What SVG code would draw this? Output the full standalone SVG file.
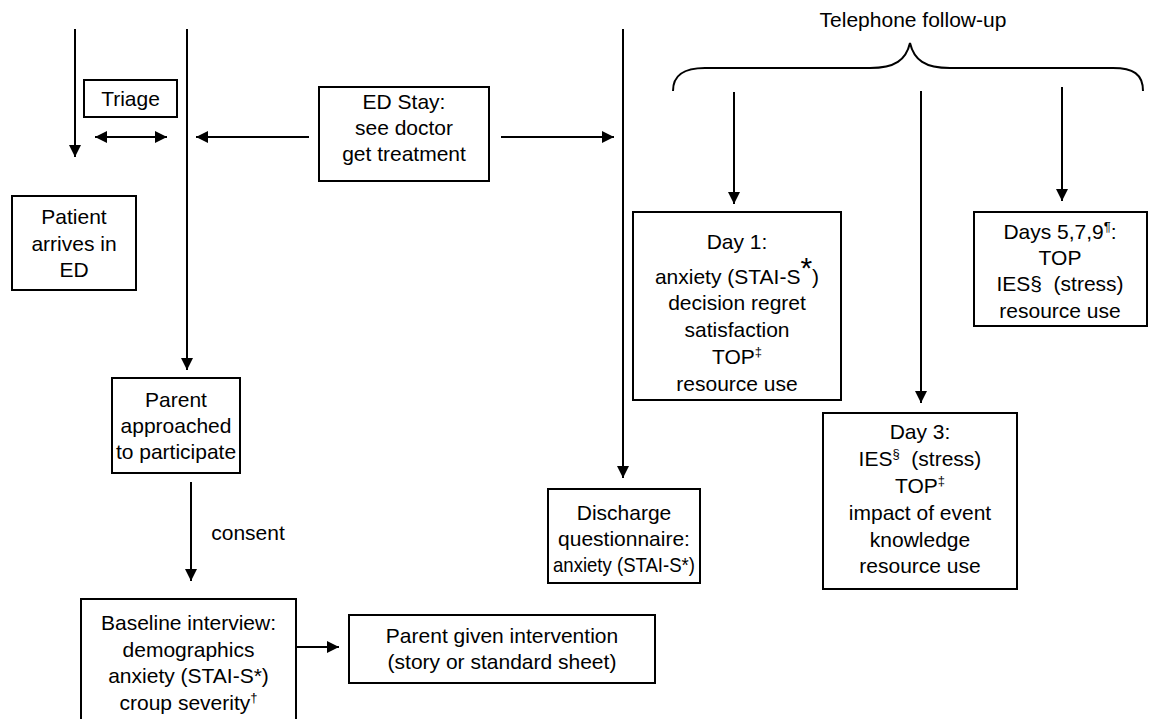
<svg xmlns="http://www.w3.org/2000/svg" width="1149" height="719" viewBox="0 0 1149 719">
<style>
.box{fill:#fff;stroke:#000;stroke-width:2}
.ln{fill:none;stroke:#000;stroke-width:2}
text{font-family:"Liberation Sans",Arial,sans-serif;font-size:21px;fill:#000;text-anchor:middle}
.sup{font-size:13px}
</style>
<defs>
<marker id="ah" markerUnits="userSpaceOnUse" markerWidth="14" markerHeight="12" refX="12" refY="6" orient="auto-start-reverse">
<path d="M0,0 L12,6 L0,12 Z" fill="#000"/>
</marker>
</defs>
<rect width="1149" height="719" fill="#fff"/>
<g id="connectors">
<line class="ln" x1="75" y1="29" x2="75" y2="157" marker-end="url(#ah)"/>
<line class="ln" x1="187" y1="29" x2="187" y2="370" marker-end="url(#ah)"/>
<line class="ln" x1="95" y1="137" x2="167" y2="137" marker-start="url(#ah)" marker-end="url(#ah)"/>
<line class="ln" x1="309" y1="137" x2="196" y2="137" marker-end="url(#ah)"/>
<line class="ln" x1="501" y1="137" x2="614" y2="137" marker-end="url(#ah)"/>
<line class="ln" x1="623" y1="29" x2="623" y2="478" marker-end="url(#ah)"/>
<line class="ln" x1="191" y1="482" x2="191" y2="581" marker-end="url(#ah)"/>
<line class="ln" x1="297" y1="647" x2="339" y2="647" marker-end="url(#ah)"/>
<line class="ln" x1="734" y1="92" x2="734" y2="204" marker-end="url(#ah)"/>
<line class="ln" x1="921" y1="91" x2="921" y2="403" marker-end="url(#ah)"/>
<line class="ln" x1="1062" y1="87" x2="1062" y2="201" marker-end="url(#ah)"/>
<path class="ln" d="M673,91 C673,74 685,68 705,68 L870,68 C895,68 906,60 910,43 C914,60 925,68 950,68 L1113,68 C1133,68 1143,74 1143,91"/>
<text x="913" y="27">Telephone follow-up</text>
<text x="248" y="540">consent</text>
</g>
<g id="triage">
<rect class="box" x="84" y="80" width="93" height="37"/>
<text x="130.5" y="106">Triage</text>
</g>
<g id="patient">
<rect class="box" x="12" y="196" width="124" height="94"/>
<text x="74" y="224">Patient</text>
<text x="74" y="251">arrives in</text>
<text x="74" y="277">ED</text>
</g>
<g id="edstay">
<rect class="box" x="319" y="87" width="170" height="94"/>
<text x="404" y="109">ED Stay:</text>
<text x="404" y="135">see doctor</text>
<text x="404" y="161">get treatment</text>
</g>
<g id="parent">
<rect class="box" x="112" y="378" width="128" height="95"/>
<text x="176" y="407">Parent</text>
<text x="176" y="433">approached</text>
<text x="176" y="459">to participate</text>
</g>
<g id="baseline">
<rect class="box" x="81" y="599" width="215" height="130"/>
<text x="188.5" y="630">Baseline interview:</text>
<text x="188.5" y="657">demographics</text>
<text x="188.5" y="683">anxiety (STAI-S*)</text>
<text x="188.5" y="710">croup severity<tspan class="sup" dy="-8">†</tspan></text>
</g>
<g id="intervention">
<rect class="box" x="349" y="615" width="306" height="68"/>
<text x="502" y="643">Parent given intervention</text>
<text x="502" y="669">(story or standard sheet)</text>
</g>
<g id="discharge">
<rect class="box" x="548" y="489" width="152" height="94"/>
<text x="624" y="520">Discharge</text>
<text x="624" y="546">questionnaire:</text>
<text x="624" y="572" textLength="142" lengthAdjust="spacingAndGlyphs">anxiety (STAI-S*)</text>
</g>
<g id="day1">
<rect class="box" x="633" y="212" width="208" height="188"/>
<text x="737" y="249">Day 1:</text>
<text x="737" y="284">anxiety (STAI-S<tspan font-size="30" dy="-6">*</tspan><tspan dy="6">)</tspan></text>
<text x="737" y="310">decision regret</text>
<text x="737" y="337">satisfaction</text>
<text x="737" y="364">TOP<tspan class="sup" dy="-8">‡</tspan></text>
<text x="737" y="391">resource use</text>
</g>
<g id="day3">
<rect class="box" x="823" y="413" width="194" height="176"/>
<text x="920" y="439">Day 3:</text>
<text x="920" y="466">IES<tspan class="sup" dy="-8">§</tspan><tspan dy="8">&#160; (stress)</tspan></text>
<text x="920" y="493">TOP<tspan class="sup" dy="-8">‡</tspan></text>
<text x="920" y="520">impact of event</text>
<text x="920" y="547">knowledge</text>
<text x="920" y="573">resource use</text>
</g>
<g id="days579">
<rect class="box" x="974" y="212" width="173" height="114"/>
<text x="1060" y="239">Days 5,7,9<tspan class="sup" dy="-8">¶</tspan><tspan dy="8">:</tspan></text>
<text x="1060" y="265">TOP</text>
<text x="1060" y="291">IES§&#160; (stress)</text>
<text x="1060" y="318">resource use</text>
</g>
</svg>
